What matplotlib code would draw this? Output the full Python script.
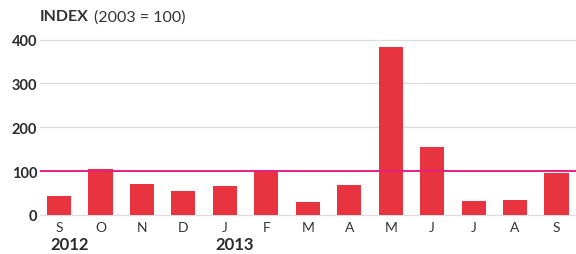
import matplotlib
matplotlib.use("Agg")
import matplotlib.pyplot as plt

months = ["S", "O", "N", "D", "J", "F", "M", "A", "M", "J", "J", "A", "S"]
values = [43, 105, 71, 55, 66, 101, 30, 69, 384, 155, 32, 34, 96]
reference = 100
yticks = [0, 100, 200, 300, 400]
years = [("2012", 0), ("2013", 4)]

plt.rcParams['font.family'] = ['Lato', 'DejaVu Sans']

fig = plt.figure(figsize=(5.76, 2.55), dpi=100)
ax = fig.add_axes([0.0694, 0.153, 0.9306, 0.722])

x = list(range(len(months)))
ax.bar(x, values, width=0.58, color="#e8343f", zorder=3)
ax.axhline(reference, color="#e8207f", lw=1.4, zorder=4)

ax.set_xlim(-0.46, 12.47)
ax.set_ylim(0, 420)
ax.set_yticks(yticks)
ax.set_yticklabels([str(t) for t in yticks], fontsize=10.5, fontweight="bold", color="#2a2a2a")
for t in yticks:
    ax.axhline(t, color="#dddddd", lw=0.9, zorder=1, clip_on=False)

ax.set_xticks(x)
ax.set_xticklabels(months, fontsize=10, color="#333333")
ax.tick_params(axis="x", length=0, pad=4)
ax.tick_params(axis="y", length=0, pad=2)
for s in ax.spines.values():
    s.set_visible(False)

for label, idx in years:
    ax.text(idx - 0.22, -0.115, label, transform=ax.get_xaxis_transform(),
            ha="left", va="top", fontsize=12, fontweight="bold", color="#2a2a2a")

fig.text(0.0694, 0.933, "INDEX", fontsize=11.5, fontweight="bold", color="#333333", va="center")
fig.text(0.163, 0.933, "(2003 = 100)", fontsize=11.5, color="#333333", va="center")

fig.savefig("out.png", dpi=100)
